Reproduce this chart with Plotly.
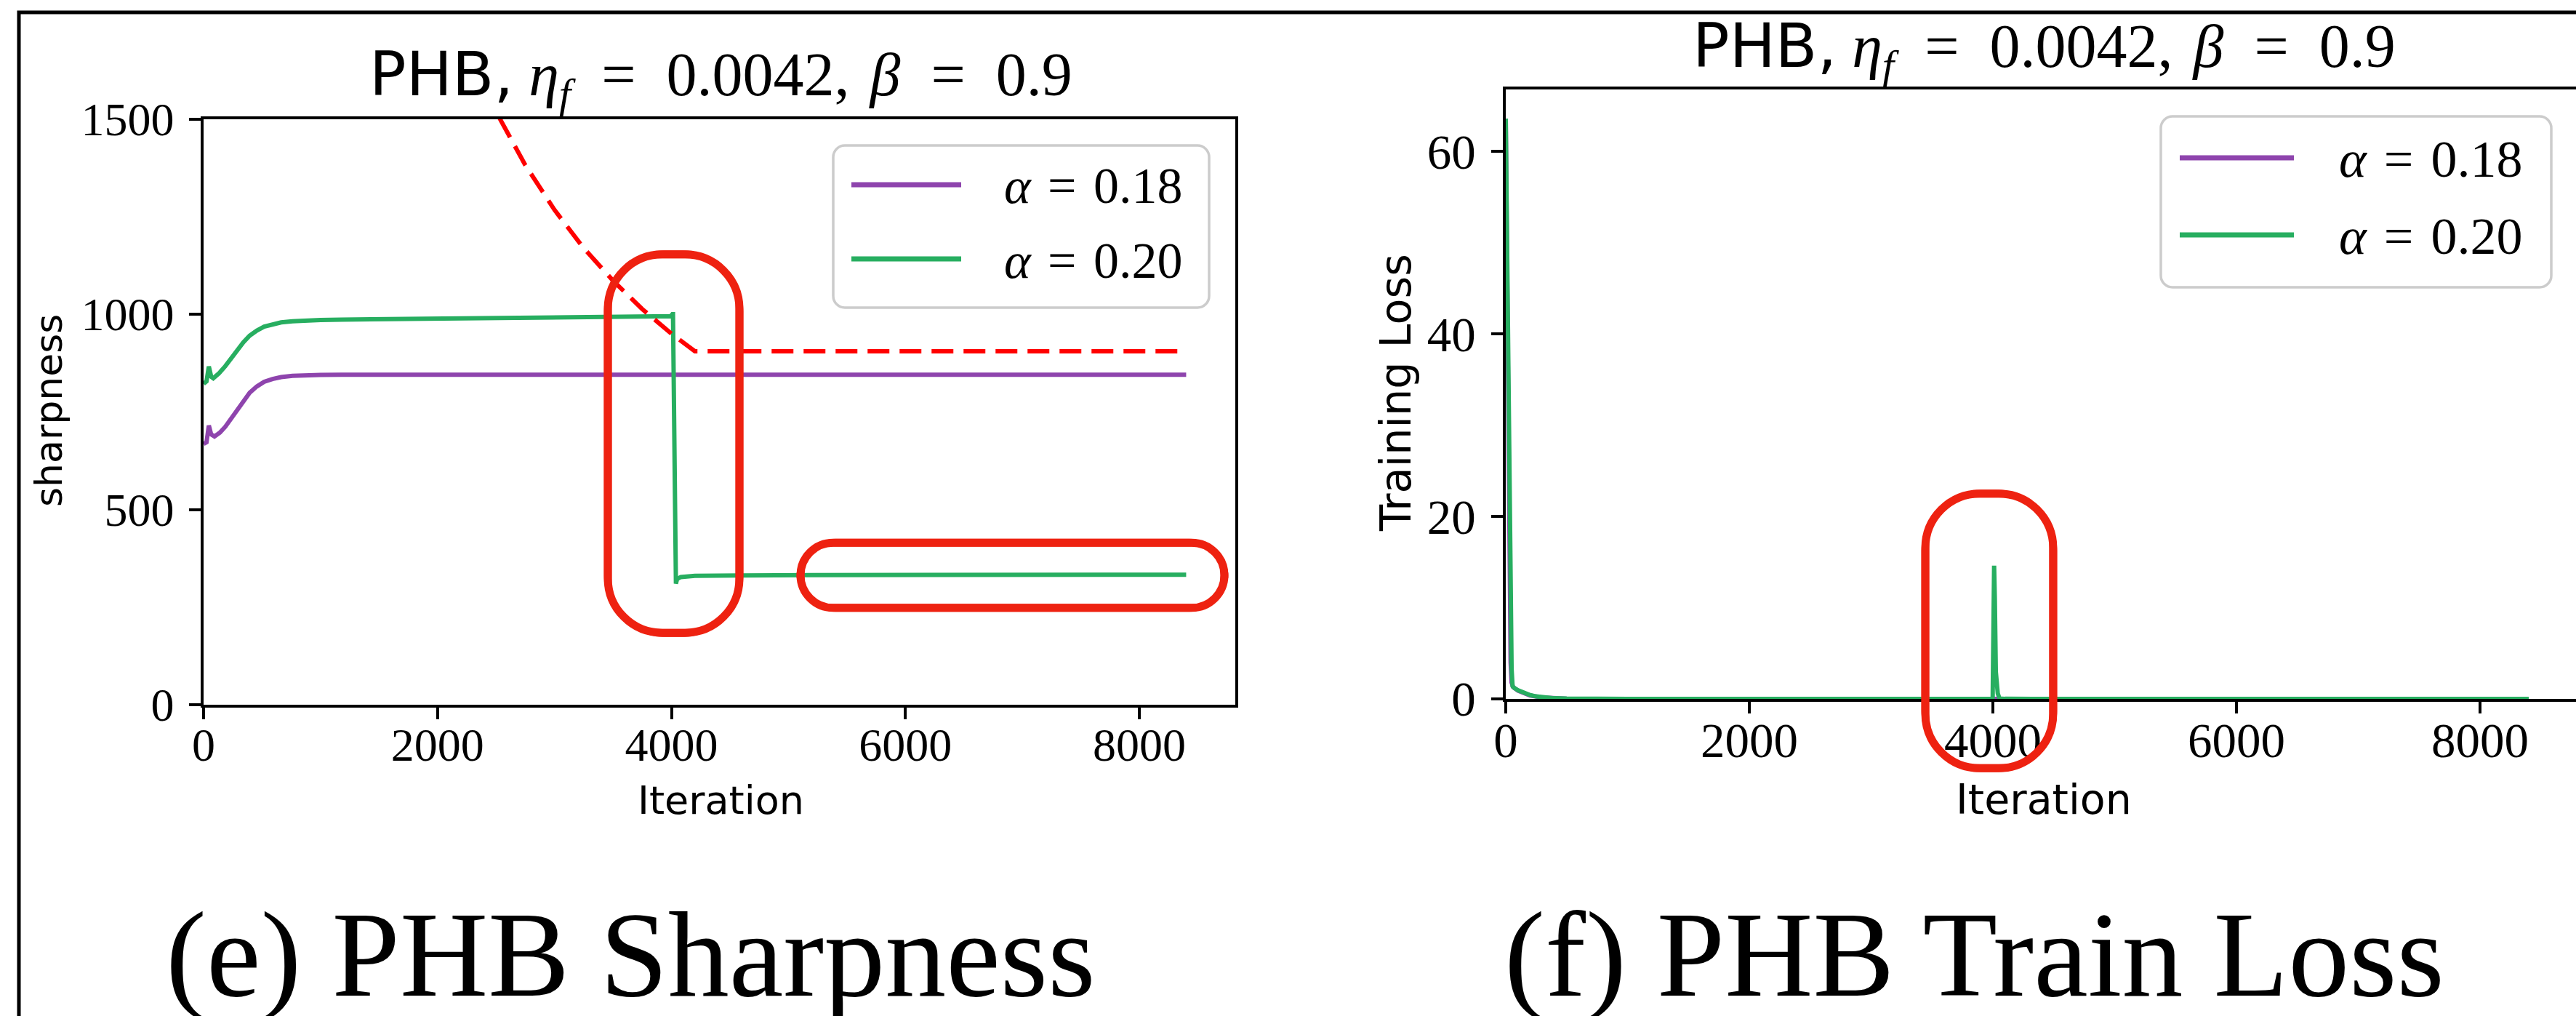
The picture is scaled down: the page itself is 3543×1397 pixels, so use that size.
import plotly.graph_objects as go

# ---------------------------------------------------------------- data
# Sharpness (left panel)
sharp_iter_018 = [0, 25, 45, 65, 93, 140, 186, 240, 290, 340, 394, 455, 518, 590, 663,
                  760, 870, 1000, 1180, 1430, 8400]
sharp_val_018 = [668, 672, 715, 692, 687, 697, 712, 734, 755, 778, 799, 815, 827, 834, 839,
                 842, 843.6, 844.5, 845, 845, 845]

sharp_iter_020 = [0, 25, 45, 65, 83, 130, 186, 240, 290, 340, 394, 455, 518, 590, 663,
                  760, 870, 1000, 1180, 1430, 2500, 3500, 3995, 4008, 4013, 4038, 4048,
                  4080, 4200, 4600, 5200, 8400]
sharp_val_020 = [822, 828, 866, 840, 836, 848, 867, 888, 910, 928, 945, 958, 968, 974, 979,
                 982, 984, 985, 986, 987, 990, 993, 995, 1000, 1000, 310, 322,
                 327, 330, 331, 332, 333]

# Stability threshold 2(1+beta)/eta (red dashed)
thresh_iter = [2530, 2750, 3000, 3250, 3500, 3750, 4000, 4200, 8400]
thresh_val = [1502, 1382, 1267, 1169, 1086, 1013, 950, 905, 905]

# Training loss (right panel)
loss_iter_018 = [0, 8, 16, 24, 32, 40, 48, 60, 100, 150, 200, 300, 400, 500, 700, 1000, 8400]
loss_val_018 = [63.6, 50, 37, 24, 12, 4, 1.8, 1.3, 0.9, 0.6, 0.38, 0.15, 0.06, 0.025,
                0.008, 0.004, 0.001]

loss_iter_020 = [0, 8, 16, 24, 32, 40, 48, 56, 70, 100, 150, 200, 250, 300, 400, 500, 700,
                 1000, 3998, 4010, 4016, 4024, 4040, 4054, 4100, 8400]
loss_val_020 = [63.6, 52, 40, 28, 16, 6, 3.3, 1.4, 1.2, 0.95, 0.65, 0.42, 0.27, 0.17, 0.07,
                0.03, 0.01, 0.005, 0.003, 14.6, 11, 3.0, 0.6, 0.05, 0.01, 0.002]

series_labels = ["0.18", "0.20"]
sharp_ticks = [0, 500, 1000, 1500]
loss_ticks = [0, 20, 40, 60]
iter_ticks = [0, 2000, 4000, 6000, 8000]

# highlighted regions (iteration range, value range)
sharp_marks = [((3456, 4581), (184, 1153), 75, 75),
               ((5103, 8727), (248, 415), 45, 45)]
loss_marks = [((3445, 4495), (-7.6, 22.5), 75, 75)]

# ---------------------------------------------------------------- style
W, H = 3543, 1397
PURPLE = "#8e44ad"
GREEN = "#27ae60"
RED = "#ee2211"
SERIF = "Liberation Serif"
SANS = "DejaVu Sans"
LW = 6

L_DOM_X = [280 / W, 1699 / W]
L_DOM_Y = [1 - 969 / H, 1 - 163.5 / H]
R_DOM_X = [2071 / W, 1.0]
R_DOM_Y = [1 - 961 / H, 1 - 123 / H]
L_XR, L_YR = [0, 8820], [0, 1500]
R_XR, R_YR = [0, 8788], [0, 66.8]


def px(x):
    return x / W


def py(y):
    return 1 - y / H


fig = go.Figure()

fig.add_trace(go.Scatter(x=sharp_iter_018, y=sharp_val_018, mode="lines",
                         line=dict(color=PURPLE, width=LW), xaxis="x", yaxis="y"))
fig.add_trace(go.Scatter(x=sharp_iter_020, y=sharp_val_020, mode="lines",
                         line=dict(color=GREEN, width=LW), xaxis="x", yaxis="y"))
fig.add_trace(go.Scatter(x=thresh_iter, y=thresh_val, mode="lines",
                         line=dict(color="#ff0000", width=LW, dash="30px,14px"),
                         xaxis="x", yaxis="y"))
fig.add_trace(go.Scatter(x=loss_iter_018, y=loss_val_018, mode="lines",
                         line=dict(color=PURPLE, width=LW), xaxis="x2", yaxis="y2"))
fig.add_trace(go.Scatter(x=loss_iter_020, y=loss_val_020, mode="lines",
                         line=dict(color=GREEN, width=LW), xaxis="x2", yaxis="y2"))

axis_common = dict(showgrid=False, zeroline=False, showline=True, linecolor="black",
                   linewidth=3.5, ticks="outside", ticklen=16, tickwidth=3.5,
                   tickcolor="black", fixedrange=True, automargin=False)

fig.update_layout(
    template="none",
    width=W, height=H, autosize=False,
    margin=dict(l=0, r=0, t=0, b=0, pad=0, autoexpand=False),
    paper_bgcolor="white", plot_bgcolor="white",
    showlegend=False,
    xaxis=dict(domain=L_DOM_X, range=L_XR, tickvals=iter_ticks, mirror=True,
               tickfont=dict(family=SERIF, size=64, color="black"), anchor="y",
               ticklabelstandoff=-20, **axis_common),
    yaxis=dict(domain=L_DOM_Y, range=L_YR, tickvals=sharp_ticks, mirror=True,
               tickfont=dict(family=SERIF, size=64, color="black"), anchor="x",
               ticklabelstandoff=8, **axis_common),
    xaxis2=dict(domain=R_DOM_X, range=R_XR, tickvals=iter_ticks, mirror=True,
                tickfont=dict(family=SERIF, size=67, color="black"), anchor="y2",
                ticklabelstandoff=-20, **axis_common),
    yaxis2=dict(domain=R_DOM_Y, range=R_YR, tickvals=loss_ticks, mirror=False,
                tickfont=dict(family=SERIF, size=67, color="black"), anchor="x2",
                ticklabelstandoff=8, **axis_common),
)


def to_paper(v, dom, rng):
    return dom[0] + (v - rng[0]) / (rng[1] - rng[0]) * (dom[1] - dom[0])


def rounded_path(x0, x1, y0, y1, rx, ry):
    # x0<x1, y0<y1 in paper units; rx, ry corner radii in paper units
    k = 0.5523
    p = [f"M {x0 + rx},{y0}", f"L {x1 - rx},{y0}",
         f"C {x1 - rx + k * rx},{y0} {x1},{y0 + ry - k * ry} {x1},{y0 + ry}",
         f"L {x1},{y1 - ry}",
         f"C {x1},{y1 - ry + k * ry} {x1 - rx + k * rx},{y1} {x1 - rx},{y1}",
         f"L {x0 + rx},{y1}",
         f"C {x0 + rx - k * rx},{y1} {x0},{y1 - ry + k * ry} {x0},{y1 - ry}",
         f"L {x0},{y0 + ry}",
         f"C {x0},{y0 + ry - k * ry} {x0 + rx - k * rx},{y0} {x0 + rx},{y0}", "Z"]
    return " ".join(p)


shapes = []

# hand-drawn style highlight loops
for marks, dx, dy, rx_, ry_ in [(sharp_marks, L_DOM_X, L_DOM_Y, L_XR, L_YR),
                                (loss_marks, R_DOM_X, R_DOM_Y, R_XR, R_YR)]:
    for (xa, xb), (ya, yb), rpx, rpy in marks:
        x0, x1 = to_paper(xa, dx, rx_), to_paper(xb, dx, rx_)
        y0, y1 = to_paper(ya, dy, ry_), to_paper(yb, dy, ry_)
        for off, wd, op in [(0, 11, 1.0), (3.5, 4, 0.8), (-3.5, 4, 0.8)]:
            o = off / W
            oy = off / H
            shapes.append(dict(type="path", xref="paper", yref="paper", layer="above",
                               path=rounded_path(x0 + o, x1 - o, y0 - oy, y1 + oy,
                                                 rpx / W, rpy / H),
                               line=dict(color=RED, width=wd), opacity=op))

# legend boxes drawn in pixel space
legends = [
    dict(box=(1146, 1663, 200, 423), line_x=(1171, 1322), ys=(254, 356), tx=1379, size=70),
    dict(box=(2972, 3509, 160, 395), line_x=(2998, 3155), ys=(217, 323), tx=3215, size=72),
]
annotations = []
for lg in legends:
    bx0, bx1, by0, by1 = lg["box"]
    shapes.append(dict(type="path", xref="paper", yref="paper", layer="above",
                       path=rounded_path(px(bx0), px(bx1), py(by1), py(by0), 16 / W, 16 / H),
                       line=dict(color="#cccccc", width=3.5), fillcolor="rgba(255,255,255,0.85)"))
    for yy, col, lab in zip(lg["ys"], [PURPLE, GREEN], series_labels):
        shapes.append(dict(type="line", xref="paper", yref="paper", layer="above",
                           x0=px(lg["line_x"][0]), x1=px(lg["line_x"][1]), y0=py(yy), y1=py(yy),
                           line=dict(color=col, width=LW + 1)))
        annotations.append(dict(xref="paper", yref="paper", x=px(lg["tx"]), y=py(yy + 2),
                                xanchor="left", yanchor="middle", showarrow=False,
                                text=f"<i>α</i>\u2004=\u2004{lab}",
                                font=dict(family=SERIF, size=lg["size"], color="black")))

# outer frame
shapes.append(dict(type="path", xref="paper", yref="paper", layer="above",
                   path=f"M {px(26)},{py(1400)} L {px(26)},{py(17)} L {px(3550)},{py(17)}",
                   line=dict(color="black", width=5)))


def ann(text, x, y, size, family=SERIF, xanchor="center", yanchor="middle", angle=0):
    annotations.append(dict(xref="paper", yref="paper", x=px(x), y=py(y), text=text,
                            xanchor=xanchor, yanchor=yanchor, showarrow=False,
                            textangle=angle,
                            font=dict(family=family, size=size, color="black")))


title = (f'<span style="font-family:{SANS}">PHB,</span> '
         '<i>η</i><sub><i>f</i></sub>\u2002=\u20020.0042,\u2004<i>β</i>\u2002=\u20020.9')
ann(title, 992, 107, 84)
ann(title, 2811, 68, 84)

ann("sharpness", 67, 565, 52, family=SANS, angle=-90)
ann("Training Loss", 1920, 540, 59, family=SANS, angle=-90)
ann("Iteration", 992, 1100, 54, family=SANS)
ann("Iteration", 2811, 1099, 57, family=SANS)

ann("(e) PHB Sharpness", 226, 1312, 168, xanchor="left")
ann("(f) PHB Train Loss", 2067, 1312, 168, xanchor="left")

fig.update_layout(shapes=shapes, annotations=annotations)

fig.write_html("out.html")
